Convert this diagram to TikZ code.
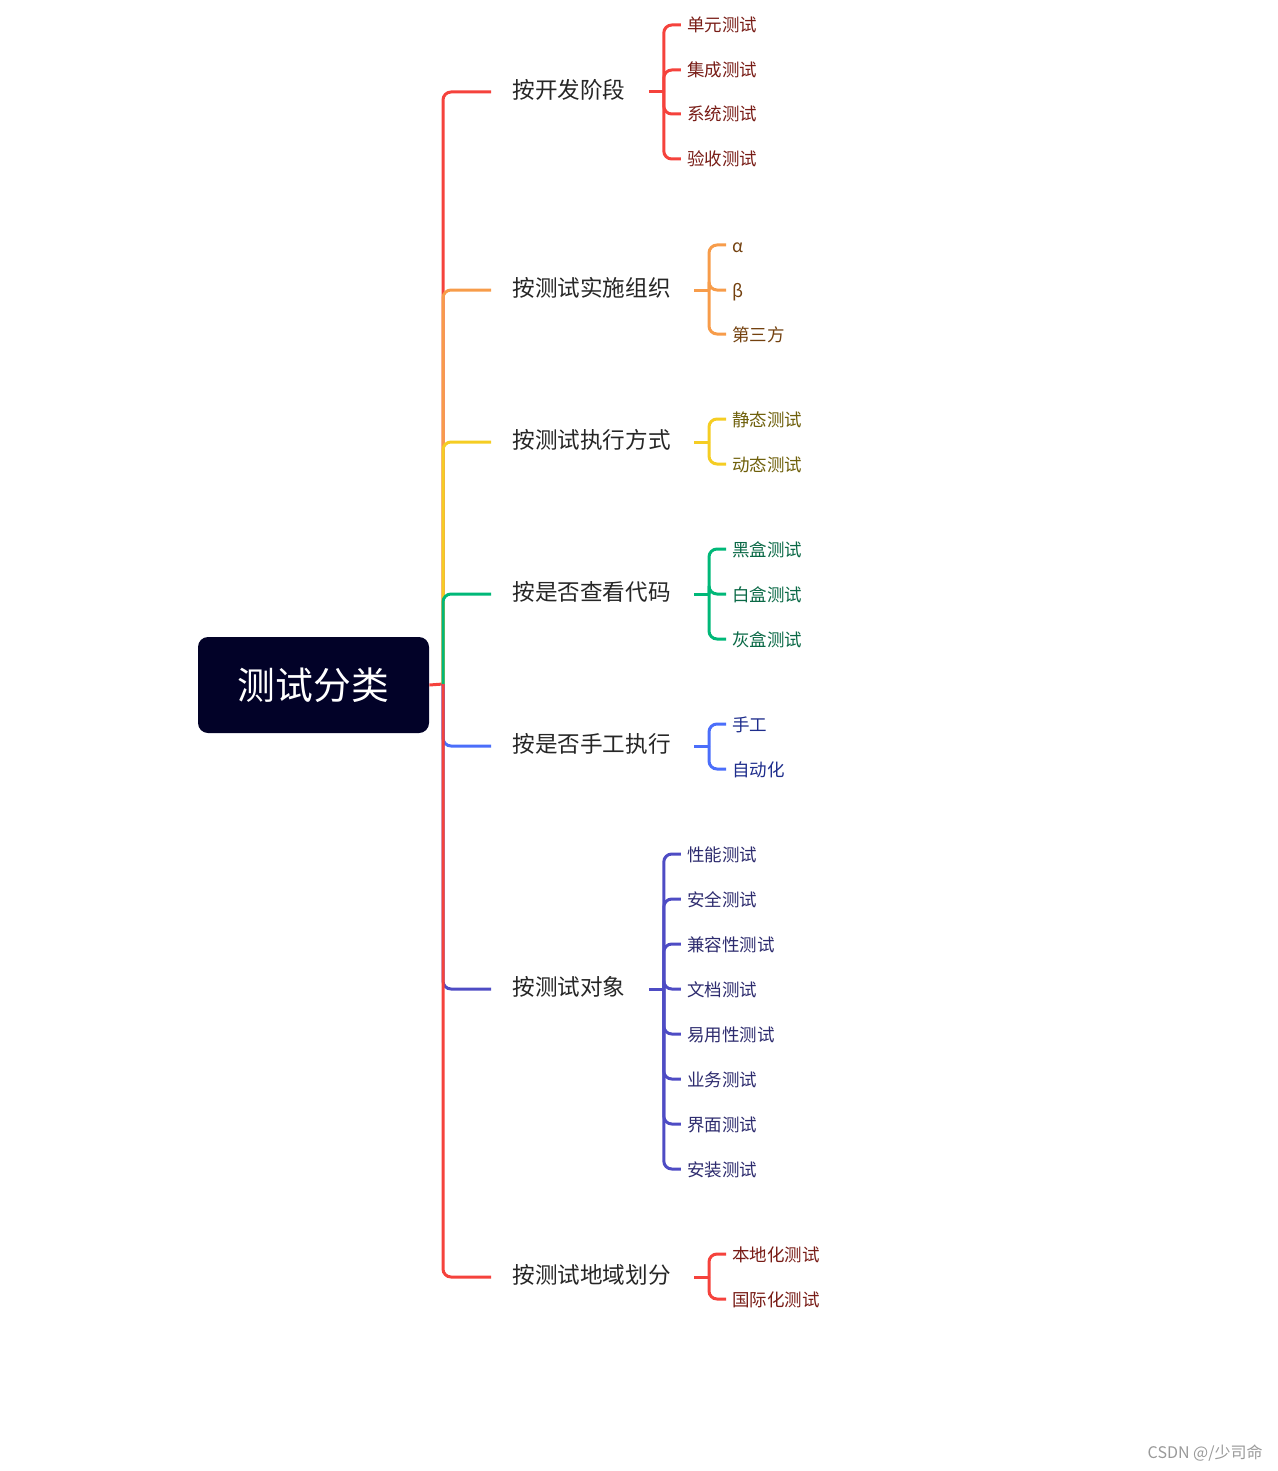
\documentclass[tikz,border=0pt]{standalone}
\usepackage{fontspec}
\setmainfont{Noto Sans CJK SC}
\usetikzlibrary{calc}
\definecolor{rootFill}{RGB}{2,2,40}
\definecolor{cRed}{RGB}{245,66,60}     \definecolor{tRed}{RGB}{120,28,22}
\definecolor{cOrange}{RGB}{247,156,74} \definecolor{tOrange}{RGB}{115,65,15}
\definecolor{cYellow}{RGB}{245,205,35} \definecolor{tYellow}{RGB}{110,95,10}
\definecolor{cGreen}{RGB}{0,184,120}   \definecolor{tGreen}{RGB}{10,105,70}
\definecolor{cBlue}{RGB}{75,110,250}   \definecolor{tBlue}{RGB}{30,45,140}
\definecolor{cIndigo}{RGB}{78,76,196}  \definecolor{tIndigo}{RGB}{45,43,110}
\begin{document}
\begin{tikzpicture}[x=0.5pt, y=-0.5pt,
  branch/.style={line width=1.5pt, rounded corners=4pt},
  rootbox/.style={fill=rootFill, text=white, rounded corners=5pt, minimum width=115.5pt, minimum height=48pt, inner sep=0pt, font=\fontsize{18.9}{20}\selectfont},
  cat/.style={anchor=west, inner sep=0pt, text height=0.78em, text depth=0.14em, text=black!85, font=\fontsize{11.3}{12}\selectfont},
  leaf/.style={anchor=west, inner sep=0pt, text height=0.8em, text depth=0.1em, font=\fontsize{8.75}{10}\selectfont}]
  \useasboundingbox (0,0) rectangle (1278,1471);
  % root and hub
  \node[rootbox] (root) at (313.5,685) {测试分类};
  \coordinate (hub) at (443,684);
  \draw[branch, cRed] (root.east) -- (hub);
  % categories: name/y/line colour/text colour/leaves
  \foreach \n/\y/\lc/\tc/\leaves in {
      1/92/cRed/tRed/{单元测试/25, 集成测试/70, 系统测试/114, 验收测试/159},
      2/290/cOrange/tOrange/{α/245, β/290, 第三方/334},
      3/442/cYellow/tYellow/{静态测试/419, 动态测试/464},
      4/594/cGreen/tGreen/{黑盒测试/549, 白盒测试/594, 灰盒测试/639},
      5/746/cBlue/tBlue/{手工/724, 自动化/769},
      6/989/cIndigo/tIndigo/{性能测试/854, 安全测试/899, 兼容性测试/944, 文档测试/989, 易用性测试/1034, 业务测试/1079, 界面测试/1124, 安装测试/1169},
      7/1277/cRed/tRed/{本地化测试/1254, 国际化测试/1299}} {
    \ifcase\n\or
      \node[cat] (b\n) at (512,\y) {按开发阶段};\or
      \node[cat] (b\n) at (512,\y) {按测试实施组织};\or
      \node[cat] (b\n) at (512,\y) {按测试执行方式};\or
      \node[cat] (b\n) at (512,\y) {按是否查看代码};\or
      \node[cat] (b\n) at (512,\y) {按是否手工执行};\or
      \node[cat] (b\n) at (512,\y) {按测试对象};\or
      \node[cat] (b\n) at (512,\y) {按测试地域划分};\fi
    \draw[branch, \lc] (hub) |- ([xshift=-10.5pt]b\n.west);
    \draw[branch, \lc] ([xshift=11.5pt]b\n.east) -- ++(15,0) coordinate (k\n);
    \coordinate (t\n) at ($(k\n)+(23,0)$);
    \foreach \t/\ly [count=\i] in \leaves {
      \node[leaf, text=\tc] (b\n l\i) at (t\n |- 0,\ly) {\t};
      \draw[branch, \lc] (k\n) |- ([xshift=-3pt]b\n l\i.west);
    }
  }
  % watermark
  \node[anchor=east, inner sep=0pt, text=black!40, font=\fontsize{8}{9}\selectfont] (mark) at (1263,1453) {CSDN @/少司命};
\end{tikzpicture}
\end{document}
